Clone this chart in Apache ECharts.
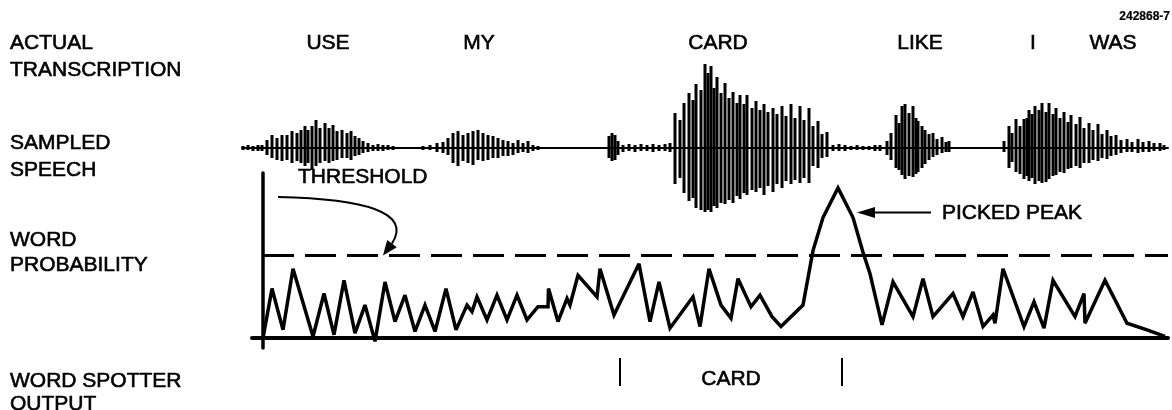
<!DOCTYPE html>
<html>
<head>
<meta charset="utf-8">
<title>Word spotter</title>
<script src="https://cdn.jsdelivr.net/npm/echarts@6/dist/echarts.min.js"></script>
<style>
html, body { margin: 0; padding: 0; background: #fff; }
#chart { width: 1172px; height: 410px; }
</style>
</head>
<body>
<div id="chart"></div>
<script>
// words actually spoken, and the time each one is centred on
var wordNames = ['USE', 'MY', 'CARD', 'LIKE', 'I', 'WAS'];
var wordTimes = [65, 216, 455, 657, 770, 850];

// sampled speech, one stroke per sample: [time, upper amplitude, lower amplitude]
var speechStrokes = [
  [-20,2,2],[-15,3,2],[-10,2,3],[-5,3,3],[-1,3,3],[4,8,7],[9,13,10],[14,10,12],[19,13,13],
  [24,13,12],[29,17,15],[34,15,13],[38,18,15],[42,22,18],[45,18,15],[49,22,22],[53,28,18],
  [57,20,15],[62,25,13],[66,20,15],[70,23,13],[74,17,12],[79,18,10],[84,15,10],[88,17,12],
  [92,12,8],[96,10,7],[100,7,5],[105,5,4],[110,3,3],[115,4,3],[120,3,3],[125,3,2],[130,2,2],
  [160,2,2],[167,3,2],[174,5,4],[180,6,5],[185,10,7],[190,15,15],[195,17,18],[200,13,13],
  [205,15,15],[210,17,17],[215,18,12],[220,15,13],[225,13,12],[230,12,10],[235,10,10],
  [240,8,8],[245,7,8],[250,5,7],[255,8,5],[260,5,4],[265,7,5],[270,3,3],[275,2,2],
  [346,12,10],[349,15,13],[352,13,12],[355,7,7],[360,3,4],[366,4,3],[372,3,4],[378,4,3],
  [384,3,3],[390,4,4],[396,3,3],[402,4,3],[407,5,4],
  [412,35,36],[417,28,30],[421,45,45],[426,55,53],[430,48,50],[433,64,60],[438,58,62],
  [442,84,64],[445,75,62],[448,82,64],[451,60,58],[454,71,60],[458,55,55],[462,65,56],
  [466,50,52],[470,56,55],[474,45,48],[477,53,51],[481,44,45],[484,53,47],[489,40,42],
  [493,47,44],[497,38,40],[501,44,47],[505,36,38],[510,40,44],[514,34,36],[519,42,40],
  [523,32,33],[528,44,36],[532,30,32],[537,42,35],[541,28,30],[546,40,35],[550,22,18],
  [555,27,20],[559,14,10],[564,16,9],[570,3,3],[576,4,3],[582,3,3],[588,2,2],[594,3,2],
  [600,2,2],[606,2,2],[612,3,3],[617,3,3],
  [624,7,7],[628,15,12],[633,33,20],[636,25,22],[639,42,27],[642,44,31],[646,35,28],
  [650,42,29],[653,30,26],[655,27,24],[659,22,20],[662,18,16],[666,14,12],[670,15,9],
  [674,9,7],[679,11,5],[683,6,4],[686,7,4],
  [741,7,4],[746,22,20],[749,15,14],[753,29,24],[757,22,26],[761,29,31],[764,30,28],
  [766,38,33],[769,34,30],[772,42,36],[776,38,33],[779,45,35],[783,36,34],[786,45,31],
  [790,34,28],[793,40,27],[797,30,24],[801,36,25],[805,26,21],[808,33,20],[813,24,18],
  [817,31,20],[821,20,15],[826,25,15],[830,18,12],[835,24,13],[839,14,10],[844,18,11],
  [848,12,8],[853,13,7],[858,8,5],[864,9,4],[869,6,4],[875,9,5],[880,6,4],[886,7,4],
  [891,5,3],[897,5,3],[901,3,2]
];

// word probability from the spotter: [time, probability]
var probability = [
  [0,0.00],[9,0.30],[20,0.05],[30,0.42],[50,0.01],[61,0.27],[71,0.02],[81,0.35],[92,0.03],
  [102,0.20],[112,-0.02],[122,0.34],[132,0.10],[142,0.26],[152,0.04],[162,0.20],[172,0.04],
  [183,0.30],[193,0.05],[204,0.20],[209,0.16],[214,0.25],[224,0.11],[234,0.26],[244,0.11],
  [254,0.26],[264,0.11],[275,0.19],[285,0.19],[285.5,0.30],[295,0.10],[304,0.24],[307,0.20],
  [315,0.38],[334,0.25],[337,0.42],[351,0.14],[376,0.45],[387,0.10],[396,0.34],[407,0.06],
  [430,0.25],[437,0.07],[446,0.42],[458,0.20],[468,0.12],[475,0.36],[488,0.19],[497,0.26],
  [509,0.13],[518,0.07],[540,0.20],[550,0.53],[560,0.73],[575,0.91],[590,0.73],[600,0.52],
  [607,0.39],[619,0.08],[630,0.34],[650,0.13],[660,0.36],[670,0.13],[690,0.27],[700,0.13],
  [710,0.28],[720,0.07],[730,0.14],[732,0.09],[740,0.42],[761,0.07],[771,0.22],[781,0.06],
  [790,0.35],[812,0.13],[821,0.27],[822,0.09],[842,0.35],[864,0.09],[884,0.05],[902,0.01]
];
var threshold = 0.5;

// what the word spotter reports
var spotWord = 'CARD';
var spotStart = 357;
var spotEnd = 579;

var FONT = '"Liberation Sans", Arial, Helvetica, sans-serif';

function plainX(idx, min) {
  return {
    type: 'value', gridIndex: idx, min: min, max: 905,
    axisLine: { show: false }, axisTick: { show: false },
    axisLabel: { show: false }, splitLine: { show: false }
  };
}
function plainY(idx, min, max) {
  return {
    type: 'value', gridIndex: idx, min: min, max: max,
    axisLine: { show: false }, axisTick: { show: false },
    axisLabel: { show: false }, splitLine: { show: false }
  };
}

var xAxes = [plainX(0, -21), plainX(1, -21), plainX(2, -11), plainX(3, -21)];
xAxes[1].axisLine = { show: true, onZero: true, lineStyle: { color: '#000', width: 2 } };
xAxes[2].axisLine = { show: true, onZero: true, lineStyle: { color: '#000', width: 4 } };

var yAxes = [plainY(0, 0, 1), plainY(1, -90, 90), plainY(2, -0.06, 1), plainY(3, 0, 1)];
yAxes[2].axisLine = { show: true, onZero: true, lineStyle: { color: '#000', width: 3.5 } };

function strokeItem(params, api) {
  var top = api.coord([api.value(0), api.value(1)]);
  var bottom = api.coord([api.value(0), -api.value(2)]);
  return {
    type: 'line',
    shape: { x1: top[0], y1: top[1], x2: bottom[0], y2: bottom[1] },
    style: { stroke: '#000', lineWidth: 3 }
  };
}

function tickItem(params, api) {
  var a = api.coord([api.value(0), 0]);
  var b = api.coord([api.value(0), 1]);
  return {
    type: 'line',
    shape: { x1: a[0], y1: a[1], x2: b[0], y2: b[1] },
    style: { stroke: '#000', lineWidth: 2 }
  };
}

var wordLabel = {
  show: true, position: 'inside', formatter: '{b}', opacity: 1,
  color: '#000', fontFamily: FONT, fontSize: 21,
  textBorderColor: '#000', textBorderWidth: 0.6
};
var hiddenDot = { color: 'rgba(0,0,0,0)', opacity: 1 };

var chart = echarts.init(document.getElementById('chart'));
chart.setOption({
  animation: false,
  backgroundColor: '#fff',
  grid: [
    { left: 242, right: 4, top: 30, height: 26 },
    { left: 242, right: 4, top: 58, height: 180 },
    { left: 252, right: 4, top: 173, height: 175 },
    { left: 242, right: 4, top: 358, height: 28 }
  ],
  xAxis: xAxes,
  yAxis: yAxes,
  series: [
    {
      type: 'scatter', xAxisIndex: 0, yAxisIndex: 0,
      symbolSize: 1, itemStyle: hiddenDot,
      label: wordLabel,
      data: wordNames.map(function (w, i) { return { name: w, value: [wordTimes[i], 0.5] }; })
    },
    {
      type: 'custom', xAxisIndex: 1, yAxisIndex: 1,
      renderItem: strokeItem,
      encode: { x: 0, y: [1, 2] },
      data: speechStrokes
    },
    {
      type: 'line', xAxisIndex: 2, yAxisIndex: 2,
      symbol: 'none',
      lineStyle: { color: '#000', width: 3.5, join: 'miter', miterLimit: 3 },
      data: probability,
      markLine: {
        silent: true, symbol: 'none', label: { show: false },
        lineStyle: { color: '#000', width: 3, type: [31, 11] },
        data: [[{ coord: [0, threshold] }, { coord: [905, threshold] }]]
      }
    },
    {
      type: 'custom', xAxisIndex: 3, yAxisIndex: 3,
      renderItem: tickItem,
      encode: { x: 0 },
      data: [[spotStart], [spotEnd]]
    },
    {
      type: 'scatter', xAxisIndex: 3, yAxisIndex: 3,
      symbolSize: 1, itemStyle: hiddenDot,
      label: wordLabel,
      data: [{ name: spotWord, value: [(spotStart + spotEnd) / 2, 0.25] }]
    }
  ]
});

// annotations: row captions, threshold and peak call-outs
function caption(text, x, y, extra) {
  var style = {
    text: text, font: '21px ' + FONT, fill: '#000', verticalAlign: 'middle',
    stroke: '#000', lineWidth: 0.6
  };
  for (var k in extra) style[k] = extra[k];
  return { type: 'text', x: x, y: y, style: style, silent: true };
}

function arrowHead(tip, dx, dy, len, half) {
  var d = Math.sqrt(dx * dx + dy * dy);
  var ux = dx / d, uy = dy / d;
  var bx = tip[0] - ux * len, by = tip[1] - uy * len;
  return {
    type: 'polygon', silent: true,
    shape: { points: [tip, [bx - uy * half, by + ux * half], [bx + uy * half, by - ux * half]] },
    style: { fill: '#000' }
  };
}

var thrTip = chart.convertToPixel({ xAxisIndex: 2, yAxisIndex: 2 }, [120, threshold]);
var peakTip = chart.convertToPixel({ xAxisIndex: 2, yAxisIndex: 2 }, [594, 0.76]);
var thrEnd = [thrTip[0] + 9, thrTip[1] - 12];

chart.setOption({
  graphic: [
    caption('ACTUAL', 10, 43),
    caption('TRANSCRIPTION', 10, 70),
    caption('SAMPLED', 10, 143),
    caption('SPEECH', 10, 170),
    caption('WORD', 10, 240),
    caption('PROBABILITY', 10, 265),
    caption('WORD SPOTTER', 10, 381),
    caption('OUTPUT', 10, 404),
    caption('THRESHOLD', 298, 177),
    caption('PICKED PEAK', 942, 213),
    caption('242868-7', 1170, 17, { font: 'bold 12px ' + FONT, align: 'right', lineWidth: 0.2 }),
    {
      type: 'bezierCurve', silent: true,
      shape: {
        x1: 278, y1: 197, cpx1: 365, cpy1: 199, cpx2: 412, cpy2: 212,
        x2: thrEnd[0], y2: thrEnd[1]
      },
      style: { stroke: '#000', lineWidth: 2, fill: null }
    },
    arrowHead(thrTip, -9, 12, 15, 6),
    {
      type: 'line', silent: true,
      shape: { x1: peakTip[0] + 10, y1: peakTip[1], x2: 931, y2: peakTip[1] },
      style: { stroke: '#000', lineWidth: 2 }
    },
    arrowHead(peakTip, -1, 0, 18, 5.5)
  ]
});
</script>
</body>
</html>
